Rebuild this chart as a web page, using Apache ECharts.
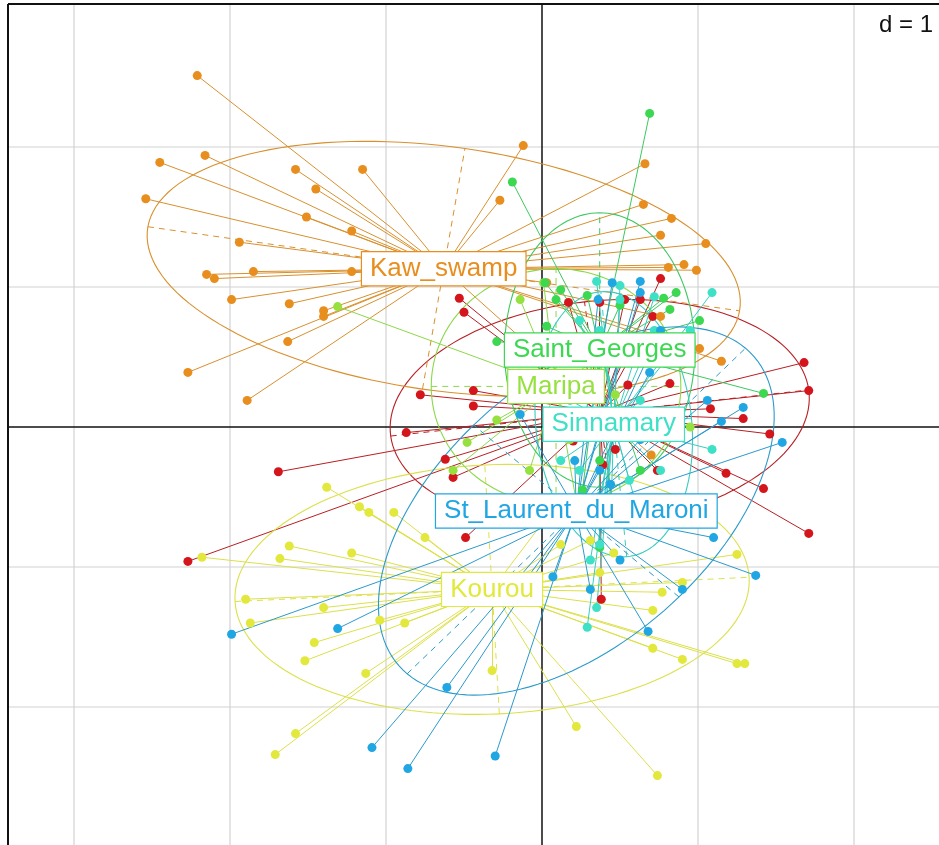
<!DOCTYPE html>
<html>
<head>
<meta charset="utf-8">
<script src="https://cdn.jsdelivr.net/npm/echarts@6/dist/echarts.min.js"></script>
<style>
  html, body { margin: 0; padding: 0; background: #fff; }
  #chart { width: 939px; height: 845px; }
</style>
</head>
<body>
<div id="chart"></div>
<script>
// s.class plot, d = 1 (one grid cell = one unit)
var groupNames = ['', 'Kaw_swamp', 'Kourou', 'Maripa', 'Saint_Georges', 'Sinnamary', 'St_Laurent_du_Maroni'];
var pointColors = ['#D4161C', '#E88E1E', '#E2E83C', '#96E040', '#3CD852', '#3EE0C6', '#20A6E2'];
var lineColors = ['#B81E22', '#D8902E', '#DCE04A', '#8CD848', '#3CC860', '#38CCC0', '#2A9ACB'];

// group centres (x, y)
var centers = [
  [0.37, 0.10], [-0.63, 1.13], [-0.32, -1.16], [0.09, 0.29],
  [0.37, 0.55], [0.46, 0.02], [0.22, -0.60]
];
// ellipses: semi axis a, semi axis b, angle of a (degrees)
var ellipses = [
  [1.35, 0.80, 7], [1.92, 0.87, -9], [1.65, 0.89, 3], [0.80, 0.84, 0],
  [0.98, 0.61, 90], [0.95, 0.50, 95], [1.59, 0.90, 47]
];

var cacao = [
  [-1.69, -0.32], [-2.27, -0.96], [-0.62, -0.23], [-0.57, -0.36], [1.68, 0.46], [1.71, 0.26],
  [1.08, 0.13], [1.29, 0.06], [1.46, -0.05], [1.18, -0.33], [1.42, -0.44], [1.71, -0.76],
  [0.82, 0.31], [0.71, 0.79], [0.74, -0.31], [-0.53, 0.92], [-0.50, 0.82], [-0.78, 0.23],
  [-0.44, 0.26], [-0.44, 0.15], [-0.87, -0.04], [0.17, 0.89], [0.76, 1.06], [0.47, -0.16],
  [0.39, -0.27], [-0.49, -0.79], [0.38, -1.23], [0.37, 0.89], [0.53, 0.91], [0.63, 0.91],
  [0.55, 0.30], [0.20, -0.10]
];
var kawSwamp = [
  [-2.21, 2.51], [-2.45, 1.89], [-2.16, 1.94], [-2.54, 1.63], [-1.58, 1.84], [-1.15, 1.84],
  [-1.45, 1.70], [-1.51, 1.50], [-1.22, 1.40], [-1.94, 1.32], [-1.85, 1.11], [-2.15, 1.09],
  [-2.10, 1.06], [-1.99, 0.91], [-1.62, 0.88], [-1.40, 0.83], [-1.40, 0.79], [-1.63, 0.61],
  [-2.27, 0.39], [-1.89, 0.19], [-1.22, 1.11], [-0.12, 2.01], [-0.27, 1.62], [0.66, 1.88],
  [0.65, 1.59], [0.83, 1.49], [0.76, 1.37], [1.05, 1.31], [0.81, 1.14], [0.91, 1.16],
  [0.99, 1.12], [1.01, 0.56], [1.15, 0.47], [0.70, -0.20], [0.76, 0.79], [0.03, 1.03]
];
var kourou = [
  [-1.38, -0.43], [-1.17, -0.57], [-1.11, -0.61], [-0.95, -0.61], [-0.75, -0.79], [-1.62, -0.85],
  [-1.22, -0.90], [-1.68, -0.94], [-2.18, -0.93], [-1.90, -1.23], [-1.40, -1.29], [-1.87, -1.40],
  [-0.88, -1.40], [-1.46, -1.54], [-1.52, -1.67], [-1.13, -1.76], [-1.58, -2.19], [-1.71, -2.34],
  [-0.32, -1.74], [1.25, -0.91], [0.46, -0.90], [0.77, -1.18], [0.90, -1.11], [0.71, -1.58],
  [0.90, -1.66], [1.25, -1.69], [1.30, -1.69], [0.22, -2.14], [0.74, -2.49], [-1.04, -1.38],
  [0.71, -1.31], [0.12, -0.84], [0.31, -0.81], [0.37, -1.04], [0.02, -0.66]
];
var maripa = [
  [-1.31, 0.86], [0.01, 1.03], [-0.29, 0.05], [-0.48, -0.11], [-0.57, -0.31], [0.95, 0.00],
  [0.44, 0.55], [0.18, -0.09], [-0.08, -0.31], [-0.14, 0.91], [0.24, -0.66], [0.47, 0.23]
];
var saintGeorges = [
  [0.69, 2.24], [-0.19, 1.75], [0.86, 0.96], [1.01, 0.76], [0.29, 0.94], [0.78, 0.92],
  [1.42, 0.24], [0.03, 0.72], [-0.29, 0.61], [0.37, -0.24], [0.37, -0.86], [0.09, 0.91],
  [0.50, 0.05], [0.02, 1.03], [0.26, -0.45], [0.12, 0.98], [0.50, 0.87], [0.63, -0.31],
  [0.44, -0.52], [0.82, 0.84]
];
var sinnamary = [
  [0.35, 1.04], [1.09, 0.96], [1.09, -0.16], [0.35, -1.29], [0.29, -1.43], [0.50, 0.91],
  [0.24, 0.76], [0.72, 0.69], [0.12, -0.24], [0.56, -0.38], [0.37, -0.52], [0.63, 0.19],
  [0.31, -0.95], [0.76, -0.31], [0.18, 0.19], [0.50, 1.01], [0.72, 0.93], [0.95, 0.69],
  [0.37, 0.69], [0.24, -0.31], [0.44, -0.66], [0.63, -0.66], [0.37, -0.84]
];
var stLaurent = [
  [-1.99, -1.48], [-1.31, -1.44], [-0.61, -1.86], [-1.09, -2.29], [-0.86, -2.44], [-0.30, -2.35],
  [1.37, -1.06], [0.90, -1.16], [0.68, -1.46], [0.07, -1.07], [1.10, -0.79], [1.29, 0.14],
  [1.54, -0.11], [1.15, 0.04], [1.06, 0.19], [0.69, 0.39], [0.63, 1.04], [0.63, 0.96],
  [0.37, -0.31], [0.21, -0.24], [0.44, -0.41], [-0.14, 0.09], [0.45, 1.03], [0.36, 0.91],
  [0.76, 0.69], [0.50, -0.95], [0.31, -1.16], [0.63, -0.09]
];
var groupPoints = [cacao, kawSwamp, kourou, maripa, saintGeorges, sinnamary, stLaurent];

var gridX = [-3, -2, -1, 1, 2];
var gridY = [-2, -1, 1, 2];
var xMin = -3.4231, xMax = 2.5449, yMin = -2.9857, yMax = 3.0214;

var myChart = echarts.init(document.getElementById('chart'));

function lineItem(x1, y1, x2, y2, api, style) {
  var a = api.coord([x1, y1]);
  var b = api.coord([x2, y2]);
  return { type: 'line', shape: { x1: a[0], y1: a[1], x2: b[0], y2: b[1] }, style: style };
}

var series = [];

// grid lines
series.push({
  type: 'custom', silent: true, z: 0,
  data: gridX.map(function (v) { return [v, 0]; }),
  renderItem: function (params, api) {
    return lineItem(api.value(0), yMin, api.value(0), yMax, api, { stroke: '#d2d2d2', lineWidth: 1.2 });
  }
});
series.push({
  type: 'custom', silent: true, z: 0,
  data: gridY.map(function (v) { return [0, v]; }),
  renderItem: function (params, api) {
    return lineItem(xMin, api.value(1), xMax, api.value(1), api, { stroke: '#d2d2d2', lineWidth: 1.2 });
  }
});
// axes through the origin, plus the left and top edges of the frame
series.push({
  type: 'custom', silent: true, z: 1,
  data: [[0, 0]],
  renderItem: function (params, api) {
    return {
      type: 'group', children: [
        lineItem(0, yMin, 0, yMax, api, { stroke: '#111', lineWidth: 1.5 }),
        lineItem(xMin, 0, xMax, 0, api, { stroke: '#111', lineWidth: 1.5 }),
        lineItem(xMin, yMin, xMin, yMax, api, { stroke: '#111', lineWidth: 2 }),
        lineItem(xMin, yMax, xMax, yMax, api, { stroke: '#111', lineWidth: 2 })
      ]
    };
  }
});

groupPoints.forEach(function (pts, i) {
  var c = centers[i];
  // stars
  series.push({
    type: 'lines', coordinateSystem: 'cartesian2d', silent: true, z: 2,
    lineStyle: { color: lineColors[i], width: 1, opacity: 1 },
    data: pts.map(function (p) { return { coords: [p, c] }; })
  });
  // ellipse with dashed axes
  series.push({
    type: 'custom', silent: true, z: 2,
    data: [[c[0], c[1], ellipses[i][0], ellipses[i][1], ellipses[i][2]]],
    renderItem: function (params, api) {
      var cx = api.value(0), cy = api.value(1), a = api.value(2), b = api.value(3);
      var ang = api.value(4) * Math.PI / 180, ca = Math.cos(ang), sa = Math.sin(ang);
      var outline = [];
      for (var k = 0; k <= 144; k++) {
        var t = k / 144 * 2 * Math.PI;
        var ex = a * Math.cos(t), ey = b * Math.sin(t);
        outline.push(api.coord([cx + ex * ca - ey * sa, cy + ex * sa + ey * ca]));
      }
      var dash = { stroke: lineColors[i], lineWidth: 1, lineDash: [6, 5] };
      return {
        type: 'group', children: [
          { type: 'polyline', shape: { points: outline }, style: { stroke: lineColors[i], fill: null, lineWidth: 1.1 } },
          lineItem(cx - a * ca, cy - a * sa, cx + a * ca, cy + a * sa, api, dash),
          lineItem(cx + b * sa, cy - b * ca, cx - b * sa, cy + b * ca, api, dash)
        ]
      };
    }
  });
});

// points on top of the stars
groupPoints.forEach(function (pts, i) {
  series.push({
    type: 'scatter', silent: true, z: 3,
    symbolSize: 9,
    itemStyle: { color: pointColors[i], opacity: 1 },
    data: pts
  });
});

// group labels in white boxes (the first group's label lies hidden under the others)
series.push({
  type: 'custom', silent: true, z: 10,
  data: centers.map(function (c, i) { return [c[0], c[1], i]; }).slice(1),
  renderItem: function (params, api) {
    var i = api.value(2);
    var p = api.coord([api.value(0), api.value(1)]);
    return {
      type: 'text', x: p[0], y: p[1], z2: 100,
      style: {
        text: groupNames[i],
        fill: pointColors[i],
        font: '26px "Liberation Sans", Arial, sans-serif',
        align: 'center', verticalAlign: 'middle',
        lineHeight: 27,
        backgroundColor: '#fff',
        borderColor: pointColors[i], borderWidth: 1.2,
        padding: [3, 8, 3, 8]
      }
    };
  }
});

var option = {
  animation: false,
  grid: { left: 8, top: 4, right: 0, bottom: 0, show: false },
  xAxis: { type: 'value', min: xMin, max: xMax, show: false },
  yAxis: { type: 'value', min: yMin, max: yMax, show: false },
  graphic: [{
    type: 'text', right: 4, top: 12, z: 100,
    style: {
      text: 'd = 1', font: '24px "Liberation Sans", Arial, sans-serif', fill: '#111',
      backgroundColor: '#fff', padding: [1, 2]
    }
  }],
  series: series
};

myChart.setOption(option, (window.onresize = myChart.resize));
</script>
</body>
</html>
